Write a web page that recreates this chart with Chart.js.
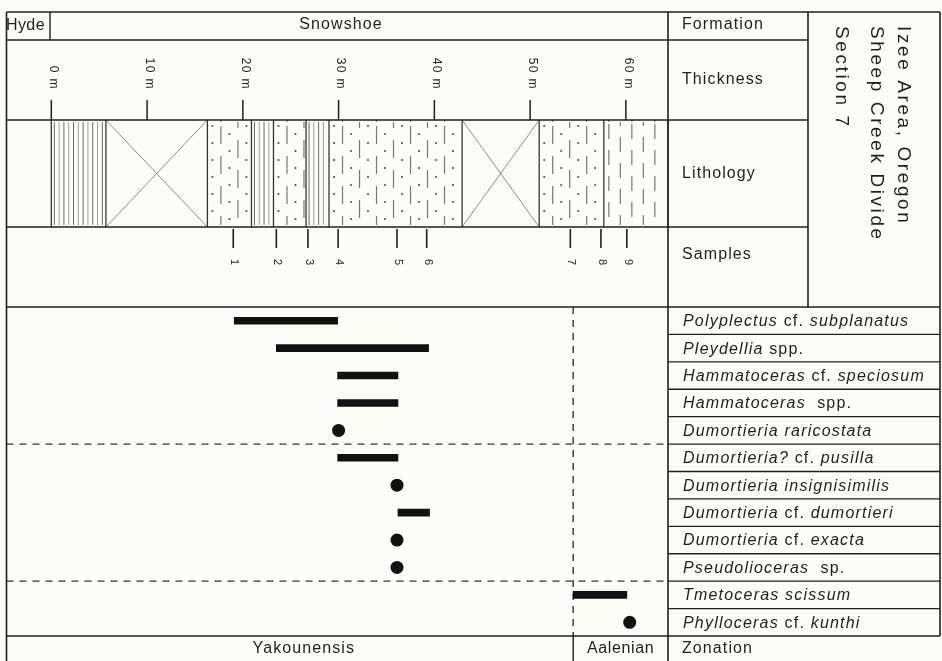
<!DOCTYPE html>
<html><head><meta charset="utf-8">
<script src="https://cdn.jsdelivr.net/npm/chart.js@4"></script>
<style>html,body{margin:0;padding:0;background:#fdfdf7;}canvas{display:block;}</style>
</head><body>
<canvas id="c" width="942" height="661"></canvas>
<script>
// ---- data ----
const taxa = ["Polyplectus cf. subplanatus","Pleydellia spp.","Hammatoceras cf. speciosum","Hammatoceras spp.","Dumortieria raricostata","Dumortieria? cf. pusilla","Dumortieria insignisimilis","Dumortieria cf. dumortieri","Dumortieria cf. exacta","Pseudolioceras sp.","Tmetoceras scissum","Phylloceras cf. kunthi"];
const taxaItalicParts = [["Polyplectus"," cf. ","subplanatus"],["Pleydellia"," spp."],["Hammatoceras"," cf. ","speciosum"],["Hammatoceras","  spp."],["Dumortieria raricostata"],["Dumortieria?"," cf. ","pusilla"],["Dumortieria insignisimilis"],["Dumortieria"," cf. ","dumortieri"],["Dumortieria"," cf. ","exacta"],["Pseudolioceras","  sp."],["Tmetoceras scissum"],["Phylloceras"," cf. ","kunthi"]];
const rangeStart = [19.1, 23.5, 29.9, 29.9, null, 29.9, null, 36.2, null, null, 54.5, null];
const rangeEnd   = [29.9, 39.4, 36.2, 36.2, null, 36.2, null, 39.5, null, null, 60.1, null];
const pointAt    = [null, null, null, null, 30.0, null, 36.1, null, 36.1, 36.1, null, 60.4];
const thicknessTicks = [0, 10, 20, 30, 40, 50, 60];
const thicknessLabels = ["0 m","10 m","20 m","30 m","40 m","50 m","60 m"];
const sampleNames = ["1","2","3","4","5","6","7","8","9"];
const samplePos = [19.0, 23.5, 26.8, 29.95, 36.1, 39.2, 54.2, 57.4, 60.1];
const lithBounds = [0, 5.7, 16.3, 20.9, 23.2, 26.6, 29.0, 42.9, 50.95, 57.7, 64.4];
const lithTypes = ["shale","covered","sandy","shale","sandy","shale","sandy","covered","sandy","brick"];
const zoneBoundary = 54.5;
const zoneBreakRows = [5, 10];
const zoneNames = ["Yakounensis","Aalenian"];
const rowLabels = ["Formation","Thickness","Lithology","Samples","Zonation"];
const titleLines = ["Izee Area, Oregon","Sheep Creek Divide","Section 7"];

// ---- layout constants (pixels) ----
const X_LAB = 808, X_END = 940;
const Y_T = 12, Y_H = 40, Y_TH = 120, Y_LI = 227, Y_BOT = 661;
const INK = "#1e1e1e";
const FONT = "'Liberation Sans', Arial, sans-serif";

function line(ctx, x1, y1, x2, y2, w, c, dash) {
  ctx.save(); ctx.beginPath(); ctx.strokeStyle = c || INK; ctx.lineWidth = w || 1.5;
  if (dash) ctx.setLineDash(dash);
  ctx.moveTo(x1, y1); ctx.lineTo(x2, y2); ctx.stroke(); ctx.restore();
}
function txt(ctx, s, x, y, opt) {
  opt = opt || {};
  ctx.save();
  ctx.font = (opt.style || "") + " " + (opt.size || 15) + "px " + FONT;
  ctx.fillStyle = opt.color || INK;
  ctx.textAlign = opt.align || "left"; ctx.textBaseline = opt.base || "middle";
  ctx.letterSpacing = (opt.ls == null ? 1.2 : opt.ls) + "px";
  ctx.translate(x, y); if (opt.rot) ctx.rotate(opt.rot);
  ctx.fillText(s, 0, 0); ctx.restore();
}

const framePlugin = {
  id: "frame",
  beforeDraw(chart) {
    const ctx = chart.ctx, xs = chart.scales.x;
    ctx.save(); ctx.fillStyle = "#fdfdf7"; ctx.fillRect(0, 0, chart.width, chart.height); ctx.restore();
    // lithology patterns
    for (let i = 0; i < lithTypes.length; i++) {
      const x1 = xs.getPixelForValue(lithBounds[i]), x2 = xs.getPixelForValue(lithBounds[i + 1]);
      const t = lithTypes[i];
      ctx.save(); ctx.beginPath(); ctx.rect(x1, Y_TH, x2 - x1, Y_LI - Y_TH); ctx.clip();
      if (t === "covered") {
        line(ctx, x1, Y_TH, x2, Y_LI, 1, "#8a8a8a"); line(ctx, x1, Y_LI, x2, Y_TH, 1, "#8a8a8a");
      } else if (t === "shale") {
        let k = 0;
        for (let x = x1 + 3; x < x2 - 1; x += 4.8, k++) line(ctx, x, Y_TH + 2, x, Y_LI - 2, 1, k % 2 ? "#a0a0a0" : "#6a6a6a");
      } else if (t === "sandy") {
        let k = 0;
        for (let x = x1 + 5; x < x2 - 2; x += 8.5, k++) {
          if (k % 2 === 0) {
            ctx.fillStyle = "#555";
            for (let y = Y_TH + 6 + ((k / 2) % 2) * 8; y < Y_LI - 3; y += 17) { ctx.beginPath(); ctx.arc(x, y, 1.1, 0, Math.PI * 2); ctx.fill(); }
          } else {
            const off = ((k - 1) / 2) % 2 ? 14 : 0;
            for (let y = Y_TH + 4 + off - 28; y < Y_LI; y += 30) line(ctx, x, Math.max(y, Y_TH + 2), x, Math.min(y + 18, Y_LI - 2), 1.2, "#777");
          }
        }
      } else if (t === "brick") {
        let k = 0;
        for (let x = x1 + 5; x < x2 - 2; x += 11.5, k++) {
          const off = k % 2 ? 13 : 0;
          for (let y = Y_TH + 4 + off - 26; y < Y_LI; y += 26) line(ctx, x, Math.max(y, Y_TH + 2), x, Math.min(y + 15, Y_LI - 2), 1.2, "#777");
        }
      }
      ctx.restore();
    }
    for (let i = 0; i < lithBounds.length; i++) {
      const x = xs.getPixelForValue(lithBounds[i]);
      line(ctx, x, Y_TH, x, Y_LI, 1.3, "#333");
    }
  },
  beforeDatasetsDraw(chart) {
    const ctx = chart.ctx, xs = chart.scales.x, ys = chart.scales.y, a = chart.chartArea;
    const zx = xs.getPixelForValue(zoneBoundary);
    line(ctx, zx, a.top, zx, a.bottom, 1.4, "#333", [7, 6]);
    zoneBreakRows.forEach(r => {
      const y = (ys.getPixelForValue(r - 1) + ys.getPixelForValue(r)) / 2;
      line(ctx, a.left, y, a.right, y, 1.4, "#333", [7, 6]);
    });
  },
  afterDatasetsDraw(chart) {
    const ctx = chart.ctx, xs = chart.scales.x, ys = chart.scales.y, a = chart.chartArea;
    const L = a.left, R = a.right;
    // horizontal rules
    line(ctx, L, Y_T, X_END, Y_T, 1.6);
    line(ctx, L, Y_H, X_LAB, Y_H, 1.6);
    line(ctx, L, Y_TH, X_LAB, Y_TH, 1.6);
    line(ctx, L, Y_LI, X_LAB, Y_LI, 1.6);
    line(ctx, L, a.top, X_END, a.top, 1.6);
    line(ctx, L, a.bottom, X_END, a.bottom, 1.6);
    for (let r = 1; r < taxa.length; r++) {
      const y = (ys.getPixelForValue(r - 1) + ys.getPixelForValue(r)) / 2;
      line(ctx, R, y, X_END, y, 1.4);
    }
    // vertical rules
    line(ctx, L, Y_T, L, Y_BOT, 1.6);
    line(ctx, 50, Y_T, 50, Y_H, 1.4);
    line(ctx, R, Y_T, R, Y_BOT, 1.6);
    line(ctx, X_LAB, Y_T, X_LAB, a.top, 1.6);
    line(ctx, X_END, Y_T, X_END, a.bottom, 1.6);
    const zx = xs.getPixelForValue(zoneBoundary);
    line(ctx, zx, a.bottom, zx, Y_BOT, 1.4);
    // header texts
    txt(ctx, "Hyde", 6, 26, {size: 16, ls: 0.4});
    txt(ctx, "Snowshoe", (50 + R) / 2 - 18, 25, {size: 16, align: "center", ls: 1.1});
    const labY = [25, 80, 174, 255, (a.bottom + Y_BOT) / 2];
    rowLabels.forEach((s, i) => txt(ctx, s, R + 14, labY[i], {size: 16, ls: 1.1}));
    // title
    const tx = [903, 876, 841];
    titleLines.forEach((s, i) => txt(ctx, s, tx[i], 26, {size: 19, ls: 2.6, rot: Math.PI / 2, base: "middle"}));
    // thickness ticks and labels
    thicknessTicks.forEach((v, i) => {
      const x = xs.getPixelForValue(v);
      line(ctx, x, 100, x, Y_TH, 1.5);
      txt(ctx, thicknessLabels[i], x + 2, 90, {size: 12, ls: 1.4, rot: Math.PI / 2, align: "right"});
    });
    // samples
    samplePos.forEach((v, i) => {
      const x = xs.getPixelForValue(v);
      line(ctx, x, Y_LI + 2, x, 248, 1.6);
      txt(ctx, sampleNames[i], x + 1, 259, {size: 11, ls: 0, rot: Math.PI / 2, align: "left"});
    });
    // taxa labels
    taxa.forEach((name, i) => {
      const y = ys.getPixelForValue(i);
      let x = R + 15;
      ctx.save();
      taxaItalicParts[i].forEach(p => {
        const ital = !(/cf\.|spp\.|sp\./.test(p));
        ctx.font = (ital ? "italic " : "") + "16px " + FONT;
        ctx.letterSpacing = "1.2px";
        ctx.fillStyle = INK; ctx.textBaseline = "middle"; ctx.textAlign = "left";
        ctx.fillText(p, x, y + 1);
        x += ctx.measureText(p).width;
      });
      ctx.restore();
    });
    // zonation names
    const zy = (a.bottom + Y_BOT) / 2;
    txt(ctx, zoneNames[0], (L + zx) / 2 + 14, zy, {size: 16, align: "center", ls: 1.1});
    txt(ctx, zoneNames[1], (zx + R) / 2, zy, {size: 16, align: "center", ls: 0.6});
  }
};

const barData = rangeStart.map((s, i) => s == null ? null : [s, rangeEnd[i]]);
const dotData = [];
pointAt.forEach((v, i) => { if (v != null) dotData.push({x: v, y: taxa[i]}); });

new Chart(document.getElementById("c"), {
  type: "bar",
  data: {
    labels: taxa,
    datasets: [
      {type: "bar", indexAxis: "y", data: barData, backgroundColor: "#111", barThickness: 7, borderWidth: 0, xAxisID: "x", yAxisID: "y"},
      {type: "scatter", data: dotData, backgroundColor: "#111", borderWidth: 0, pointRadius: 6.5, xAxisID: "x", yAxisID: "y"}
    ]
  },
  options: {
    indexAxis: "y",
    responsive: false, animation: false, devicePixelRatio: 1,
    layout: {padding: {left: 4, right: 274, top: 307, bottom: 25}},
    plugins: {legend: {display: false}, tooltip: {enabled: false}},
    scales: {
      x: {type: "linear", min: -4.68, max: 64.4, display: false},
      y: {type: "category", labels: taxa, offset: true, display: false}
    }
  },
  plugins: [framePlugin]
});
</script>
</body></html>
